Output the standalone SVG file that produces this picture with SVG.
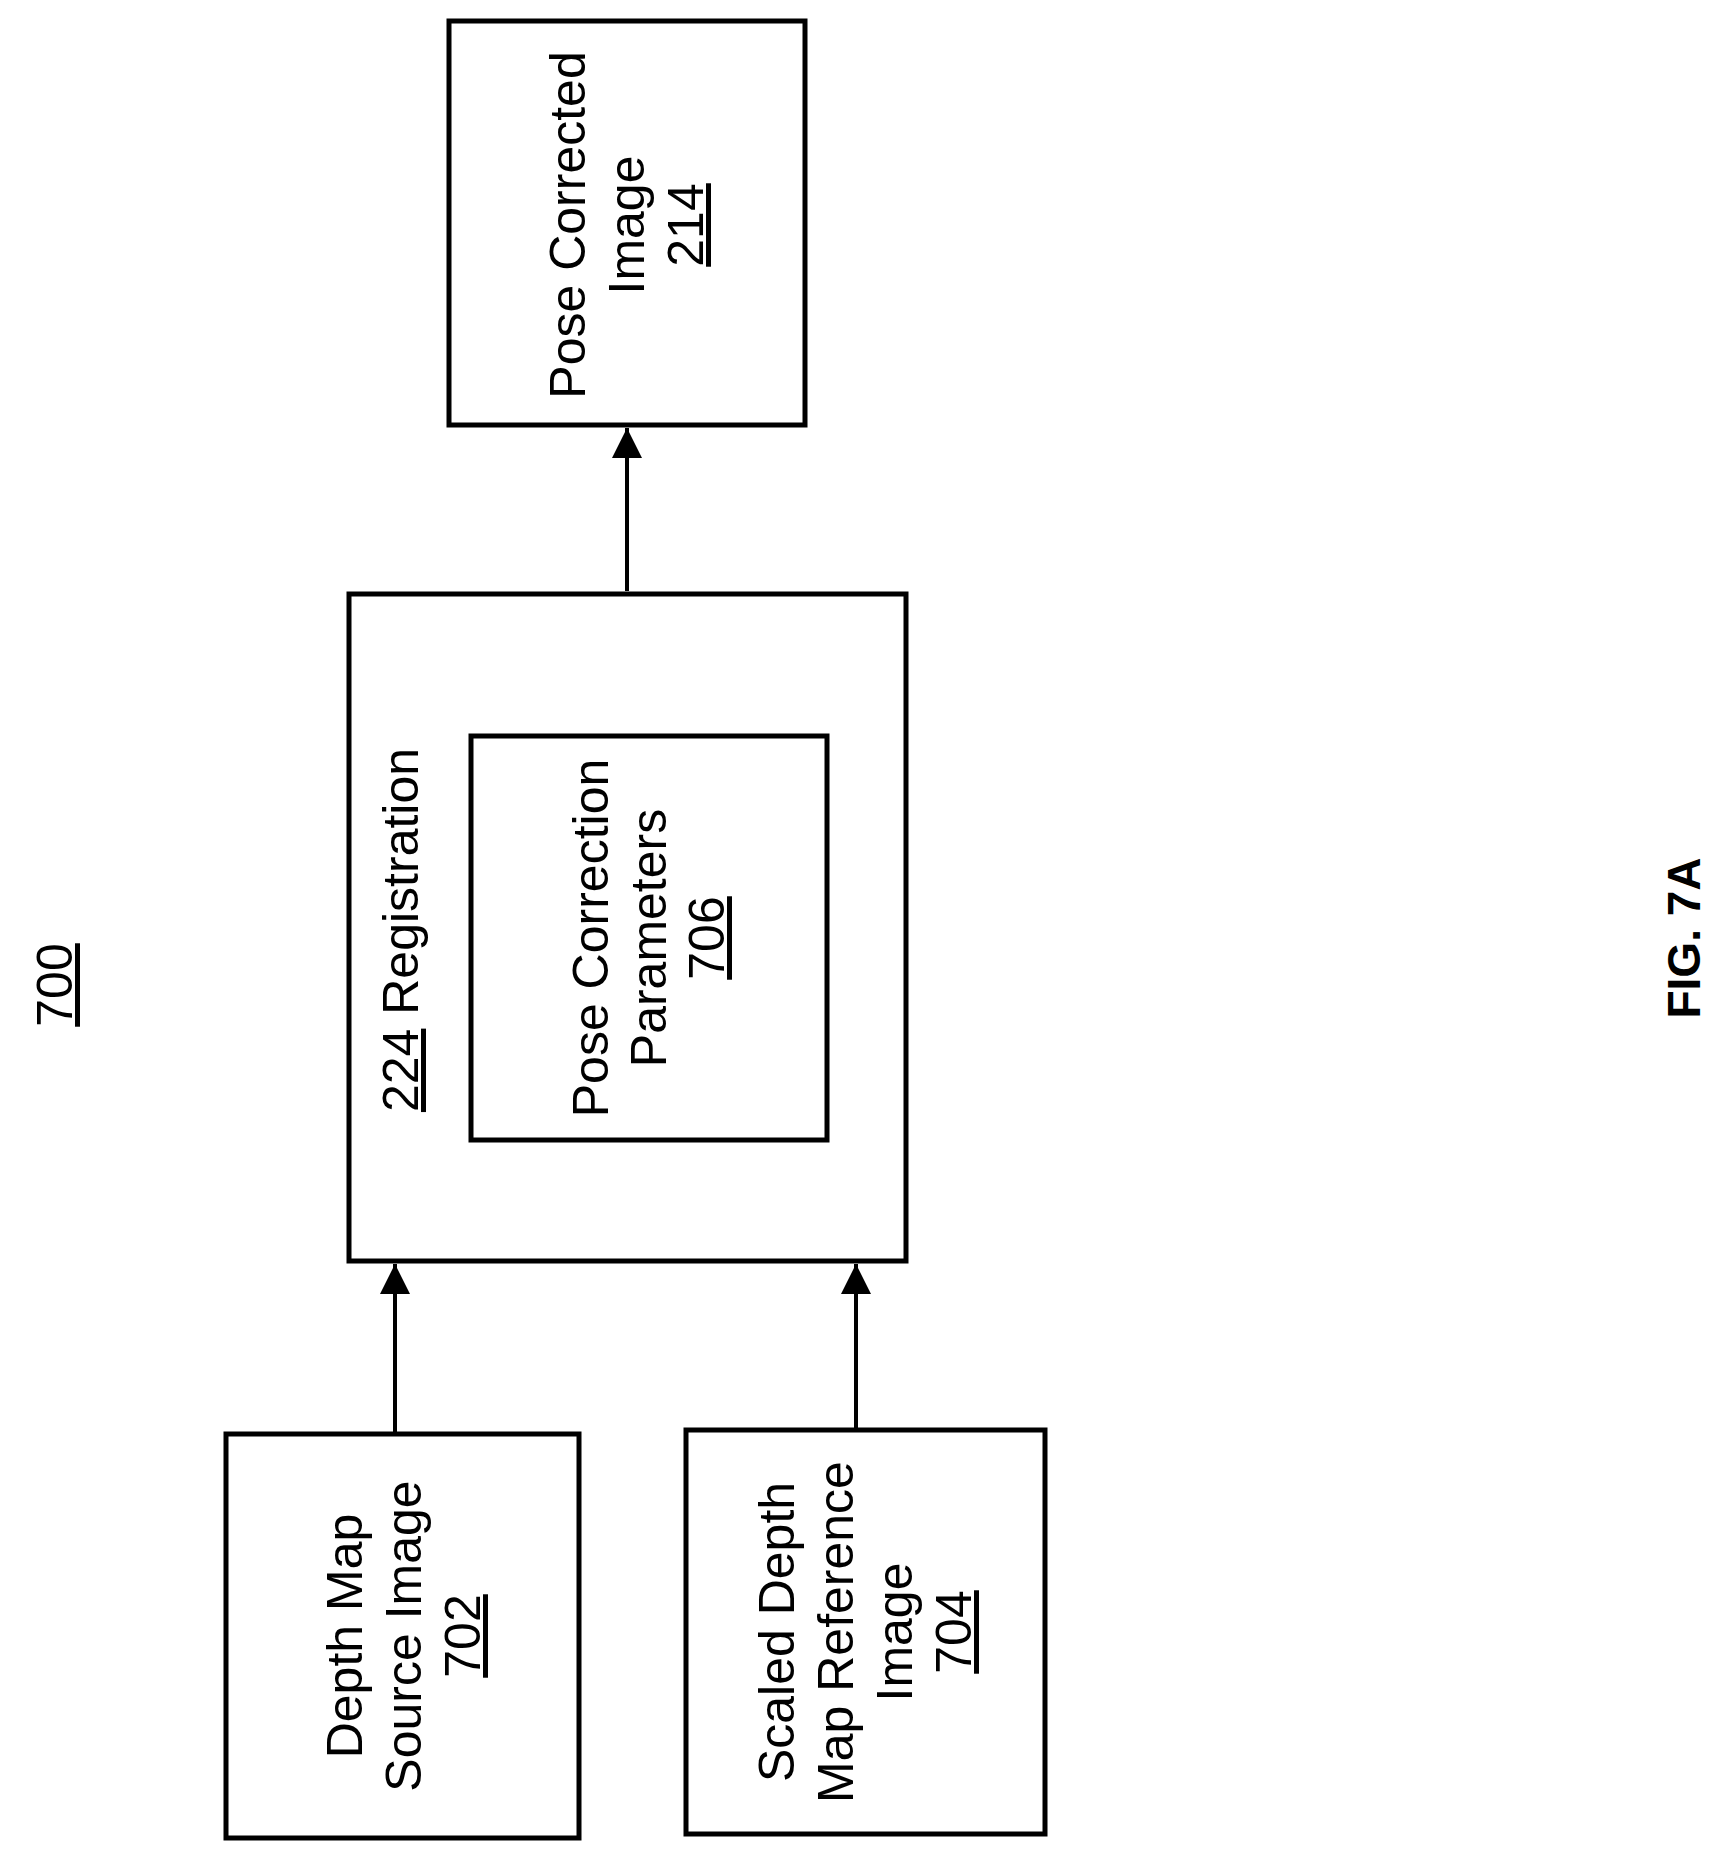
<svg xmlns="http://www.w3.org/2000/svg" width="1718" height="1861" viewBox="0 0 1718 1861">
<style>
.box{fill:#fff;stroke:#000;stroke-width:5}
.t{font-family:"Liberation Sans",Arial,sans-serif;font-size:50px;text-anchor:middle;fill:#000}
.u{text-decoration:underline}
.c{stroke:#000;stroke-width:4;fill:none}
</style>
<defs>
<marker id="ah" markerUnits="userSpaceOnUse" markerWidth="32" markerHeight="32" refX="30" refY="15" orient="auto">
<path d="M0,0 L30,15 L0,30 Z" fill="#000"/>
</marker>
</defs>
<rect width="1718" height="1861" fill="#fff"/>
<text class="t u" transform="translate(72,985) rotate(-90)">700</text>
<text class="t" style="font-weight:bold;font-size:46px" transform="translate(1700,938) rotate(-90)">FIG. 7A</text>
<g id="pose-corrected">
<rect class="box" x="449" y="21" width="356" height="404"/>
<g transform="translate(627,225) rotate(-90)">
<text class="t" x="0" y="-42">Pose Corrected</text>
<text class="t" x="0" y="17">Image</text>
<text class="t u" x="0" y="76">214</text>
</g>
</g>
<g id="registration">
<rect class="box" x="349" y="594" width="557" height="667"/>
<text class="t" transform="translate(418,930) rotate(-90)"><tspan class="u">224</tspan> Registration</text>
</g>
<g id="pose-params">
<rect class="box" x="471" y="736" width="356" height="404"/>
<g transform="translate(649,938) rotate(-90)">
<text class="t" x="0" y="-41">Pose Correction</text>
<text class="t" x="0" y="17">Parameters</text>
<text class="t u" x="0" y="75">706</text>
</g>
</g>
<g id="depth-source">
<rect class="box" x="226" y="1434" width="353" height="404"/>
<g transform="translate(402,1636) rotate(-90)">
<text class="t" x="0" y="-40">Depth Map</text>
<text class="t" x="0" y="19">Source Image</text>
<text class="t u" x="0" y="78">702</text>
</g>
</g>
<g id="scaled-ref">
<rect class="box" x="686" y="1430" width="359" height="404"/>
<g transform="translate(865,1632) rotate(-90)">
<text class="t" x="0" y="-71">Scaled Depth</text>
<text class="t" x="0" y="-12">Map Reference</text>
<text class="t" x="0" y="47">Image</text>
<text class="t u" x="0" y="106">704</text>
</g>
</g>
<g id="connectors">
<line class="c" x1="627" y1="591" x2="627" y2="428" marker-end="url(#ah)"/>
<line class="c" x1="395" y1="1434" x2="395" y2="1264" marker-end="url(#ah)"/>
<line class="c" x1="856" y1="1430" x2="856" y2="1264" marker-end="url(#ah)"/>
</g>
</svg>
